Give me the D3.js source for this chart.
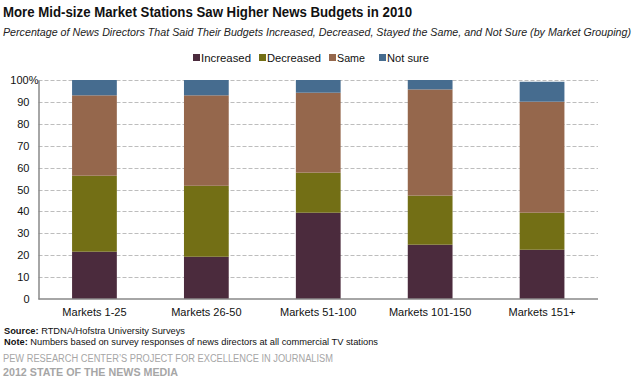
<!DOCTYPE html>
<html>
<head>
<meta charset="utf-8">
<script src="https://cdn.jsdelivr.net/npm/d3@7"></script>
<style>
  body { margin: 0; background: #fff; }
  text { font-family: "Liberation Sans", Arial, sans-serif; }
</style>
</head>
<body>
<div id="chart"></div>
<script>
// data
const markets = ['Markets 1-25', 'Markets 26-50', 'Markets 51-100', 'Markets 101-150', 'Markets 151+'];
const seriesNames = ['Increased', 'Decreased', 'Same', 'Not sure'];
const increased = [21.6, 19.3, 39.4, 24.8, 22.5];
const decreased = [34.7, 32.4, 18.3, 22.4, 16.9];
const same = [36.7, 41.3, 36.5, 48.5, 50.7];
const notSure = [7.0, 7.0, 5.8, 4.3, 9.1];
const yTicks = [0, 10, 20, 30, 40, 50, 60, 70, 80, 90, 100];

const colors = ['#4b2b3d', '#736f15', '#95674c', '#466c8f'];

const width = 643;
const height = 392;
const margin = { top: 80, right: 45, bottom: 93, left: 38.5 };

const rows = markets.map((m, i) => ({
  market: m,
  Increased: increased[i],
  Decreased: decreased[i],
  Same: same[i],
  'Not sure': notSure[i],
}));

const stacked = d3.stack().keys(seriesNames)(rows);

const svg = d3.select('#chart')
  .append('svg')
  .attr('width', width)
  .attr('height', height);

const x = d3.scaleBand()
  .domain(markets)
  .range([margin.left, width - margin.right])
  .paddingInner(0.6)
  .paddingOuter(0.3);

const y = d3.scaleLinear()
  .domain([0, 100])
  .range([height - margin.bottom, margin.top]);

// titles
svg.append('text')
  .attr('x', 3)
  .attr('y', 17)
  .attr('font-size', 14)
  .attr('font-weight', 'bold')
  .attr('fill', '#111')
  .attr('textLength', 409)
  .attr('lengthAdjust', 'spacingAndGlyphs')
  .text('More Mid-size Market Stations Saw Higher News Budgets in 2010');

svg.append('text')
  .attr('x', 3)
  .attr('y', 36)
  .attr('font-size', 10.5)
  .attr('font-style', 'italic')
  .attr('fill', '#222')
  .attr('textLength', 628)
  .attr('lengthAdjust', 'spacingAndGlyphs')
  .text('Percentage of News Directors That Said Their Budgets Increased, Decreased, Stayed the Same, and Not Sure (by Market Grouping)');

// gridlines
svg.append('g')
  .selectAll('line')
  .data(yTicks.filter((d) => d > 0))
  .join('line')
  .attr('x1', margin.left)
  .attr('x2', width - margin.right)
  .attr('y1', (d) => Math.round(y(d)) + 0.5)
  .attr('y2', (d) => Math.round(y(d)) + 0.5)
  .attr('stroke', '#bdbdbd')
  .attr('stroke-dasharray', '4,2');

// bars
svg.append('g')
  .selectAll('g')
  .data(stacked)
  .join('g')
  .attr('fill', (d, i) => colors[i])
  .selectAll('rect')
  .data((d) => d)
  .join('rect')
  .attr('x', (d) => x(d.data.market))
  .attr('width', x.bandwidth())
  .attr('y', (d) => y(d[1]))
  .attr('height', (d) => y(d[0]) - y(d[1]));

// axes
const yAxis = svg.append('g')
  .attr('transform', `translate(${margin.left},0)`)
  .call(d3.axisLeft(y).tickValues(yTicks).tickSize(0).tickPadding(9));
yAxis.select('.domain').attr('stroke', '#888').attr('stroke-width', 1.5);
yAxis.selectAll('text')
  .attr('font-size', 11)
  .attr('fill', '#111')
  .attr('font-family', '"Liberation Sans", Arial, sans-serif');
yAxis.selectAll('text').filter((d) => d === 100)
  .append('tspan')
  .text('%');
yAxis.selectAll('text').filter((d) => d === 100).attr('dx', 9);

const xAxis = svg.append('g')
  .attr('transform', `translate(0,${y(0)})`)
  .call(d3.axisBottom(x).tickSize(0).tickPadding(9));
xAxis.select('.domain')
  .attr('stroke', '#888')
  .attr('stroke-width', 1.5)
  .attr('d', `M${margin.left},0H${width - margin.right}`);
xAxis.selectAll('text')
  .attr('font-size', 11)
  .attr('fill', '#111')
  .attr('font-family', '"Liberation Sans", Arial, sans-serif');

// legend
const legendX = [193, 259, 329, 379];
const legendW = [50, 54, 28, 42];
const legend = svg.append('g')
  .selectAll('g')
  .data(seriesNames)
  .join('g')
  .attr('transform', (d, i) => `translate(${legendX[i]},53)`);
legend.append('rect')
  .attr('width', 7)
  .attr('height', 7)
  .attr('y', 1)
  .attr('fill', (d, i) => colors[i]);
legend.append('text')
  .attr('x', 8)
  .attr('y', 8.5)
  .attr('font-size', 11)
  .attr('fill', '#111')
  .attr('textLength', (d, i) => legendW[i])
  .attr('lengthAdjust', 'spacingAndGlyphs')
  .text((d) => d);

// footer
const src = svg.append('text')
  .attr('x', 4)
  .attr('y', 334)
  .attr('font-size', 9.5)
  .attr('fill', '#111')
  .attr('textLength', 181)
  .attr('lengthAdjust', 'spacingAndGlyphs');
src.append('tspan').attr('font-weight', 'bold').text('Source:');
src.append('tspan').text(' RTDNA/Hofstra University Surveys');

const note = svg.append('text')
  .attr('x', 4)
  .attr('y', 345)
  .attr('font-size', 9.5)
  .attr('fill', '#111')
  .attr('textLength', 374)
  .attr('lengthAdjust', 'spacingAndGlyphs');
note.append('tspan').attr('font-weight', 'bold').text('Note:');
note.append('tspan').text(' Numbers based on survey responses of news directors at all commercial TV stations');

svg.append('text')
  .attr('x', 3)
  .attr('y', 362)
  .attr('font-size', 10)
  .attr('fill', '#a6a6a6')
  .attr('textLength', 330)
  .attr('lengthAdjust', 'spacingAndGlyphs')
  .text('PEW RESEARCH CENTER\u2019S PROJECT FOR EXCELLENCE IN JOURNALISM');

svg.append('text')
  .attr('x', 3)
  .attr('y', 376)
  .attr('font-size', 11)
  .attr('font-weight', 'bold')
  .attr('fill', '#a6a6a6')
  .attr('textLength', 175)
  .attr('lengthAdjust', 'spacingAndGlyphs')
  .text('2012 STATE OF THE NEWS MEDIA');
</script>
</body>
</html>
